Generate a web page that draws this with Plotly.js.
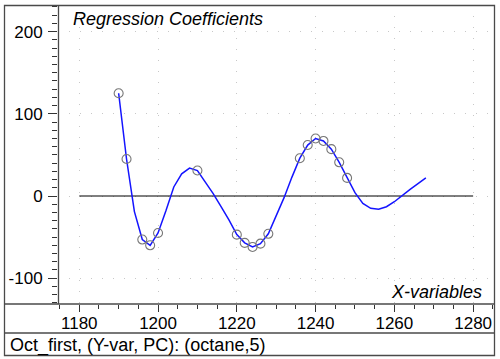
<!DOCTYPE html>
<html>
<head>
<meta charset="utf-8">
<script src="https://cdn.plot.ly/plotly-3.0.1.min.js"></script>
<style>html,body{margin:0;padding:0;background:#fff;}#chart{width:500px;height:359px;}</style>
</head>
<body>
<div id="chart"></div>
<script>
// Regression coefficient curve (every 2 units)
const lineX = [1190,1192,1194,1196,1198,1200,1202,1204,1206,1208,1210,1212,1214,1216,1218,1220,1222,1224,1226,1228,1230,1232,1234,1236,1238,1240,1242,1244,1246,1248,1250,1252,1254,1256,1258,1260,1262,1264,1266,1268];
const lineY = [125,45,-19,-53,-60,-45,-18,11,27,34,31,17,3,-13,-29,-47,-57,-62,-58,-46,-25,-2,23,46,62,70,67,57,41,22,4,-9,-15,-16,-13,-7,1,8,15,22];
// Marked (selected) variables
const markerX = [1190,1192,1196,1198,1200,1210,1220,1222,1224,1226,1228,1236,1238,1240,1242,1244,1246,1248];
const markerY = [125,45,-53,-60,-45,31,-47,-57,-62,-58,-46,46,62,70,67,57,41,22];
// Zero reference line
const refX = [1180,1280];
const refY = [0,0];
// Ticks
const xTicks = [1180,1200,1220,1240,1260,1280];
const yTicks = [-100,0,100,200];
const titleText = "Regression Coefficients";
const xLabel = "X-variables";
const footerText = "Oct_first, (Y-var, PC): (octane,5)";

const FONT = "Liberation Sans, Arial, sans-serif";
const W = 500, H = 359;
const L = 58, R = 494, T = 5, B = 304;
const px = x => (x - L) / (R - L);
const py = y => (B - y) / (B - T);
const frameColor = "#4a4a4a";

const traces = [
  {x: refX, y: refY, mode: 'lines', line: {color: '#000', width: 1.2}, hoverinfo: 'skip', showlegend: false},
  {x: lineX, y: lineY, mode: 'lines', line: {color: '#1414ff', width: 1.5}, showlegend: false},
  {x: markerX, y: markerY, mode: 'markers', marker: {symbol: 'circle-open', size: 9, color: '#777', line: {width: 1.1, color: '#777'}}, showlegend: false}
];

const layout = {
  width: W, height: H,
  margin: {l: L, r: W - R, t: T, b: H - B, pad: 0},
  paper_bgcolor: '#fff', plot_bgcolor: '#fff',
  font: {family: FONT, size: 17, color: '#000'},
  showlegend: false,
  xaxis: {
    range: [1174.6, 1285.3], tickvals: xTicks, ticktext: xTicks.map(String),
    ticks: 'outside', ticklen: 7, tickwidth: 1, tickcolor: '#333',
    tickfont: {family: FONT, size: 17, color: '#000'},
    showgrid: true, gridcolor: '#c8c8c8', gridwidth: 1, griddash: '1px,10px',
    zeroline: false, showline: false,
    minor: {dtick: 5, tick0: 1180, ticks: 'outside', ticklen: 4, tickcolor: '#333', showgrid: false},
    ticklabelstandoff: -3
  },
  yaxis: {
    range: [-131.4, 232.4], tickvals: yTicks, ticktext: yTicks.map(String),
    ticks: 'outside', ticklen: 9, tickwidth: 1, tickcolor: '#333',
    tickfont: {family: FONT, size: 17, color: '#000'},
    showgrid: true, gridcolor: '#c8c8c8', gridwidth: 1, griddash: '1px,10px',
    zeroline: false, showline: false,
    minor: {dtick: 10, tick0: 0, ticks: 'outside', ticklen: 5, tickcolor: '#333', showgrid: false},
    ticklabelstandoff: 2
  },
  shapes: [
    {type: 'rect', xref: 'paper', yref: 'paper', x0: px(4.5), x1: px(494.5), y0: py(355.5), y1: py(5.5), line: {color: frameColor, width: 1.3}},
    {type: 'line', xref: 'paper', yref: 'paper', x0: px(58.5), x1: px(58.5), y0: py(304), y1: py(5.5), line: {color: frameColor, width: 1.3}},
    {type: 'line', xref: 'paper', yref: 'paper', x0: px(4.5), x1: px(494.5), y0: py(304), y1: py(304), line: {color: frameColor, width: 1.3}},
    {type: 'line', xref: 'paper', yref: 'paper', x0: px(4.5), x1: px(494.5), y0: py(333), y1: py(333), line: {color: frameColor, width: 1.3}}
  ],
  annotations: [
    {text: titleText, xref: 'paper', yref: 'paper', x: px(71), y: py(19), xanchor: 'left', yanchor: 'middle', showarrow: false,
     font: {family: FONT, size: 18, color: '#000', style: 'italic'}},
    {text: xLabel, xref: 'paper', yref: 'paper', x: px(484), y: py(292), xanchor: 'right', yanchor: 'middle', showarrow: false,
     font: {family: FONT, size: 18, color: '#000', style: 'italic'}},
    {text: footerText, xref: 'paper', yref: 'paper', x: px(8), y: py(345), xanchor: 'left', yanchor: 'middle', showarrow: false,
     font: {family: FONT, size: 18, color: '#000'}}
  ]
};

Plotly.newPlot('chart', traces, layout, {staticPlot: true, displayModeBar: false});
</script>
</body>
</html>
